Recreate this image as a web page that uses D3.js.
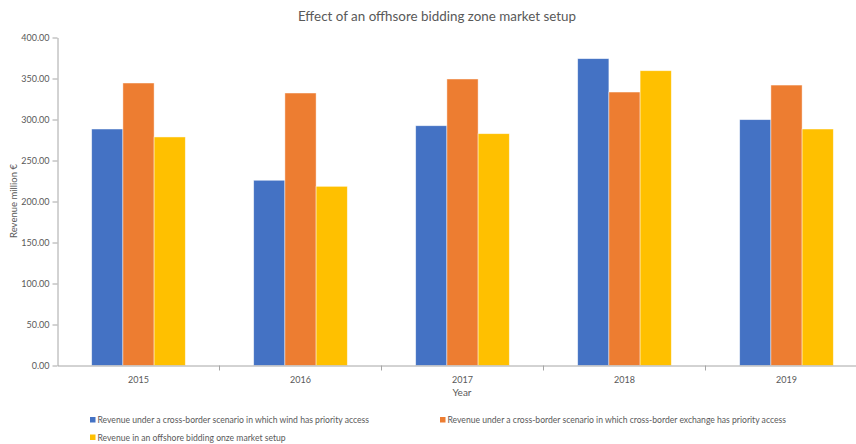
<!DOCTYPE html>
<html>
<head>
<meta charset="utf-8">
<script src="https://cdn.jsdelivr.net/npm/d3@7/dist/d3.min.js"></script>
<style>
  html, body { margin: 0; padding: 0; background: #fff; }
  svg { display: block; font-family: Lato, "Open Sans", "Liberation Sans", sans-serif; }
</style>
</head>
<body>
<svg id="chart" width="856" height="444"></svg>
<script>
const years = ["2015", "2016", "2017", "2018", "2019"];
const seriesNames = [
  "Revenue under a cross-border scenario in which wind has priority access",
  "Revenue under a cross-border scenario in which cross-border exchange has priority access",
  "Revenue in an offshore bidding onze market setup"
];
const windPriority = [288.4, 225.9, 292.4, 374.2, 299.8];
const exchangePriority = [344.5, 332.3, 349.4, 333.5, 342.0];
const offshoreZone = [278.7, 218.5, 282.7, 359.5, 288.4];
const yTicks = [0, 50, 100, 150, 200, 250, 300, 350, 400];
const colors = ["#4472C4", "#ED7D31", "#FFC000"];

const seriesValues = [windPriority, exchangePriority, offshoreZone];

const svg = d3.select("#chart");
const textColor = "#595959";
const axisColor = "#a6a6a6";
const fontStack = "Lato, 'Open Sans', 'Liberation Sans', sans-serif";

const x = d3.scaleBand().domain(years).range([57.5, 867.5]).paddingInner(0).paddingOuter(0);
const y = d3.scaleLinear().domain([0, 400]).range([365.5, 37.5]);
const groupWidth = x.bandwidth() * 0.578;
const xInner = d3.scaleBand().domain(d3.range(seriesNames.length))
  .range([(x.bandwidth() - groupWidth) / 2, (x.bandwidth() + groupWidth) / 2]);

// Title
svg.append("text")
  .attr("x", 437).attr("y", 21)
  .attr("text-anchor", "middle")
  .attr("font-size", 13.4)
  .attr("fill", textColor)
  .text("Effect of an offhsore bidding zone market setup");

// Bars
const groups = svg.append("g").selectAll("g")
  .data(years)
  .join("g")
  .attr("transform", d => `translate(${x(d)},0)`);

groups.selectAll("rect")
  .data((yr, i) => seriesValues.map((vals, s) => ({ s, v: vals[i] })))
  .join("rect")
  .attr("x", d => xInner(d.s))
  .attr("y", d => y(d.v))
  .attr("width", xInner.bandwidth())
  .attr("height", d => y(0) - y(d.v))
  .attr("fill", d => colors[d.s])
  .attr("stroke", "rgba(255,255,255,0.6)")
  .attr("stroke-width", 0.75);

// Y axis
const yAxis = svg.append("g")
  .attr("transform", "translate(57.5,0)")
  .call(d3.axisLeft(y).tickValues(yTicks).tickFormat(d3.format(".2f")).tickSize(5).tickSizeOuter(0));
yAxis.select(".domain").attr("stroke", axisColor);
yAxis.selectAll(".tick line").attr("stroke", axisColor);
yAxis.selectAll(".tick text")
  .attr("fill", textColor)
  .attr("font-size", 9)
  .attr("x", -8)
  .style("font-family", fontStack);

// X axis
const xAxis = svg.append("g")
  .attr("transform", "translate(0,365.5)")
  .call(d3.axisBottom(x).tickSize(0).tickSizeOuter(0));
xAxis.select(".domain").attr("stroke", axisColor);
xAxis.selectAll(".tick text")
  .attr("fill", textColor)
  .attr("font-size", 9)
  .attr("dy", "1.6em")
  .style("font-family", fontStack);
// Category boundary ticks
svg.append("g").selectAll("line")
  .data(years.slice(1))
  .join("line")
  .attr("x1", d => x(d)).attr("x2", d => x(d))
  .attr("y1", 365.5).attr("y2", 370.5)
  .attr("stroke", axisColor);

// Axis titles
svg.append("text")
  .attr("transform", "translate(17,201) rotate(-90)")
  .attr("text-anchor", "middle")
  .attr("font-size", 9.5)
  .attr("fill", textColor)
  .text("Revenue million €");

svg.append("text")
  .attr("x", 462).attr("y", 396)
  .attr("text-anchor", "middle")
  .attr("font-size", 10)
  .attr("fill", textColor)
  .text("Year");

// Legend
const legendPos = [[90, 420], [440, 420], [90, 437.5]];
const legend = svg.append("g").selectAll("g")
  .data(seriesNames)
  .join("g")
  .attr("transform", (d, i) => `translate(${legendPos[i][0]},${legendPos[i][1]})`);
legend.append("rect")
  .attr("x", 0).attr("y", -3).attr("width", 5.5).attr("height", 5.5)
  .attr("fill", (d, i) => colors[i]);
legend.append("text")
  .attr("x", 7.5).attr("y", 3)
  .attr("font-size", 8.6)
  .attr("fill", textColor)
  .text(d => d);
</script>
</body>
</html>
